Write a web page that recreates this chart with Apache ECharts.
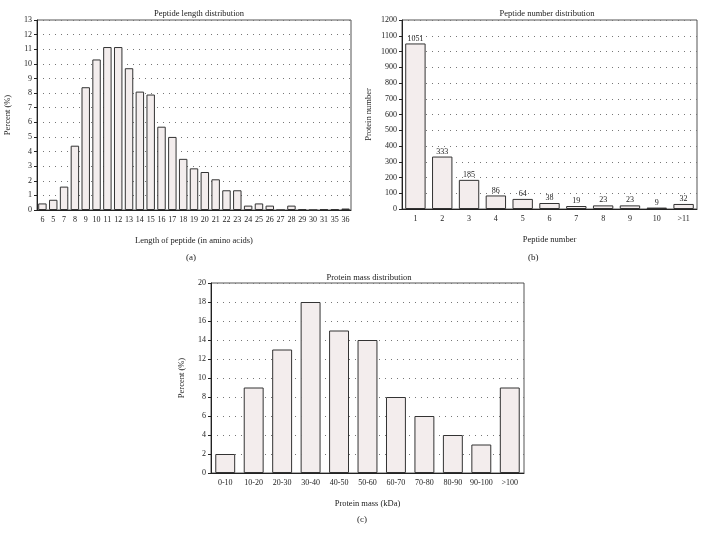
<!DOCTYPE html>
<html><head><meta charset="utf-8">
<script src="https://cdn.jsdelivr.net/npm/echarts@6/dist/echarts.min.js"></script>
<style>html,body{margin:0;padding:0;background:#fff}#c{width:704px;height:541px}</style>
</head><body><div id="c"></div>
<script>
const lenCats = ['6','5','7','8','9','10','11','12','13','14','15','16','17','18','19','20','21','22','23','24','25','26','27','28','29','30','31','35','36'];
const lenVals = [0.45,0.7,1.6,4.4,8.4,10.3,11.15,11.15,9.7,8.1,7.9,5.7,5.0,3.5,2.85,2.6,2.1,1.35,1.35,0.3,0.45,0.3,0,0.3,0.05,0,0.05,0.05,0.1];
const numCats = ['1','2','3','4','5','6','7','8','9','10','>11'];
const numVals = [1051,333,185,86,64,38,19,23,23,9,32];
const massCats = ['0-10','10-20','20-30','30-40','40-50','50-60','60-70','70-80','80-90','90-100','>100'];
const massVals = [2,9,13,18,15,14,8,6,4,3,9];

const FONT = 'Liberation Serif';
const txt = {fontFamily: FONT, fontSize: 8, color: '#222'};
const barStyle = {color: '#f3eded', borderColor: '#333', borderWidth: 1};

function xAx(idx, cats, name) {
  return {type:'category', gridIndex:idx, data:cats, name:name, nameLocation:'middle', nameGap:26,
    nameTextStyle:{fontFamily:FONT,fontSize:8.5,color:'#222'},
    axisLine:{lineStyle:{color:'#222',width:1}}, axisTick:{alignWithLabel:true,length:3,lineStyle:{color:'#222'}},
    axisLabel:Object.assign({interval:0, margin:6}, txt)};
}
function yAx(idx, max, interval, name, gap) {
  return {type:'value', gridIndex:idx, min:0, max:max, interval:interval, name:name, nameLocation:'middle', nameGap:gap,
    nameTextStyle:{fontFamily:FONT,fontSize:8.5,color:'#222'},
    axisLine:{show:true,lineStyle:{color:'#222',width:1}}, axisTick:{show:true,length:3,lineStyle:{color:'#222'}},
    axisLabel:Object.assign({margin:5, formatter:function(v){return String(v);}}, txt),
    splitLine:{show:true,lineStyle:{type:[1,5],color:'#777',width:1}}};
}

const chart = echarts.init(document.getElementById('c'), null, {renderer:'canvas'});
chart.setOption({
  animation:false,
  title:[
    {text:'Peptide length distribution', left:194, top:4, textAlign:'center', textStyle:{fontFamily:FONT,fontSize:8.5,fontWeight:'normal',color:'#222'}},
    {text:'Peptide number distribution', left:542, top:4, textAlign:'center', textStyle:{fontFamily:FONT,fontSize:8.5,fontWeight:'normal',color:'#222'}},
    {text:'Protein mass distribution', left:364, top:268, textAlign:'center', textStyle:{fontFamily:FONT,fontSize:8.5,fontWeight:'normal',color:'#222'}}
  ],
  graphic:[
    {type:'text', left:186, top:253, style:{text:'(a)', font:'9px "Liberation Serif"', fill:'#222'}},
    {type:'text', left:528, top:253, style:{text:'(b)', font:'9px "Liberation Serif"', fill:'#222'}},
    {type:'text', left:357, top:515, style:{text:'(c)', font:'9px "Liberation Serif"', fill:'#222'}}
  ],
  grid:[
    {left:37, top:20, width:314, height:190, show:true, borderColor:'#555', borderWidth:1},
    {left:402, top:20, width:295, height:189, show:true, borderColor:'#555', borderWidth:1},
    {left:211, top:283, width:313, height:190, show:true, borderColor:'#555', borderWidth:1}
  ],
  xAxis:[
    xAx(0, lenCats, 'Length of peptide (in amino acids)'),
    xAx(1, numCats, 'Peptide number'),
    xAx(2, massCats, 'Protein mass (kDa)')
  ],
  yAxis:[
    yAx(0, 13, 1, 'Percent (%)', 25),
    yAx(1, 1200, 100, 'Protein number', 29),
    yAx(2, 20, 2, 'Percent (%)', 25)
  ],
  series:[
    {type:'bar', xAxisIndex:0, yAxisIndex:0, data:lenVals, barCategoryGap:'22%', itemStyle:barStyle},
    {type:'bar', xAxisIndex:1, yAxisIndex:1, data:numVals, barCategoryGap:'24%', itemStyle:barStyle,
      label:{show:true, position:'top', distance:1, fontFamily:FONT, fontSize:8, color:'#222'}},
    {type:'bar', xAxisIndex:2, yAxisIndex:2, data:massVals, barCategoryGap:'30%', itemStyle:barStyle}
  ]
});
</script></body></html>
